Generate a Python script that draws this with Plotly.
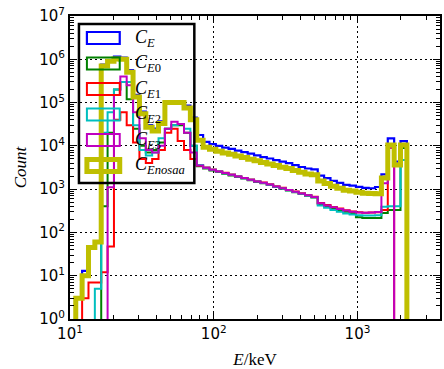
import numpy as np
import plotly.graph_objects as go

# Energy bin edges in keV, evenly spaced in log(E)
edges = np.logspace(1.04, 1.04 + 0.0443 * 52, 53)

# Counts per bin for each channel
c_e = [3, 13, 48, 63, 7.5e5, 9.5e5, 1.15e6, 1.1e6, 5.6e5, 1.5e5,
       6.2e4, 3.0e4, 2.5e4, 3.7e4, 1.08e5, 1.08e5, 1.05e5, 8.5e4, 4.5e4, 1.78e4,
       1.23e4, 1.1e4, 1.0e4, 9.1e3, 8.5e3, 7.8e3, 7.2e3, 6.6e3, 6.0e3, 5.5e3,
       5.1e3, 4.7e3, 4.3e3, 4.0e3, 3.6e3, 3.25e3, 3.0e3, 2.85e3, 2.05e3, 1.8e3,
       1.55e3, 1.4e3, 1.25e3, 1.2e3, 1.13e3, 1.07e3, 1.05e3, 1.12e3, 2.2e3, 1.49e4,
       4.3e3, 1.29e4]
c_e0 = [0, 0, 0, 0, 400, 2e4, 2e5, 3e5, 1.2e5, 2.5e4,
        1e4, 7e3, 8e3, 1.2e4, 2.5e4, 3e4, 3e4, 2e4, 1e4, 3.4e3,
        3000, 2700, 2480, 2280, 2080, 1900, 1750, 1600, 1460, 1360,
        1240, 1120, 1020, 930, 850, 770, 700, 640, 450, 400,
        360, 330, 300, 280, 225, 215, 215, 215, 280, 330,
        330, 8900]
c_e1 = [0, 3, 7, 7, 12, 47, 4e4, 6e4, 3e4, 1.2e4,
        5e3, 4e3, 5e3, 8e3, 2e4, 2.5e4, 1.3e4, 8e3, 5e3, 3.5e3,
        3150, 2850, 2600, 2380, 2180, 1980, 1820, 1680, 1520, 1420,
        1300, 1170, 1070, 960, 880, 800, 730, 670, 480, 430,
        385, 355, 325, 305, 292, 285, 288, 292, 330, 9000,
        0, 0]
c_e2 = [0, 0, 0, 5, 2e4, 6e4, 2e5, 3e5, 3e5, 3e4,
        8e3, 6e3, 7e3, 1.5e4, 2.5e4, 3e4, 3.2e4, 2.5e4, 1e4, 3.6e3,
        3100, 2800, 2550, 2340, 2150, 1950, 1790, 1640, 1500, 1390,
        1270, 1140, 1040, 940, 860, 780, 710, 650, 420, 370,
        330, 300, 275, 260, 250, 245, 245, 250, 390, 400,
        400, 4700]
c_e3 = [0, 0, 0, 0, 0, 1.1e3, 1.5e5, 4e5, 2.5e5, 6e4,
        1.5e4, 8e3, 7e3, 1e4, 2.5e4, 3.6e4, 3.2e4, 2e4, 7e3, 3.5e3,
        3100, 2800, 2550, 2350, 2150, 1950, 1800, 1650, 1500, 1400,
        1280, 1150, 1050, 950, 870, 790, 720, 660, 470, 420,
        380, 350, 320, 300, 290, 285, 290, 295, 1360, 9000,
        0, 0]
c_enosaa = [3, 10, 45, 60, 7e5, 9e5, 1.02e6, 1.0e6, 5e5, 1.35e5,
            5.5e4, 2.7e4, 2.2e4, 3.3e4, 1.0e5, 1.0e5, 1.0e5, 7.5e4, 4.0e4, 1.35e4,
            9.3e3, 8.3e3, 7.5e3, 6.8e3, 6.4e3, 5.8e3, 5.4e3, 4.9e3, 4.5e3, 4.1e3,
            3.8e3, 3.5e3, 3.2e3, 3.0e3, 2.7e3, 2.45e3, 2.25e3, 2.15e3, 1.55e3, 1.35e3,
            1.17e3, 1.05e3, 940, 900, 850, 800, 790, 780, 1.8e3, 1.05e4,
            3.6e3, 1.05e4]

labels = ["<i>C</i><sub><i>E</i></sub>",
          "<i>C</i><sub><i>E</i>0</sub>",
          "<i>C</i><sub><i>E</i>1</sub>",
          "<i>C</i><sub><i>E</i>2</sub>",
          "<i>C</i><sub><i>E</i>3</sub>",
          "<i>C</i><sub><i>Enosaa</i></sub>"]
colors = ["#0000ff", "#008000", "#ff0000", "#00bfbf", "#bf00bf", "#bfbf00"]
widths = [2.2, 2, 2, 2, 2, 5]
counts = [c_e, c_e0, c_e1, c_e2, c_e3, c_enosaa]

y_ticks = [10.0 ** p for p in range(0, 8)]
y_ticktext = [f"10<sup>{p}</sup>" for p in range(0, 8)]
x_ticks = [10.0, 100.0, 1000.0]
x_ticktext = ["10<sup>1</sup>", "10<sup>2</sup>", "10<sup>3</sup>"]

FLOOR = 1e-3  # empty bins drop below the visible range


def step_xy(c):
    xs = [edges[0]] + list(edges[:-1]) + [edges[-1]]
    ys = [FLOOR] + [v if v > 0 else FLOOR for v in c] + [FLOOR]
    return xs, ys


fig = go.Figure()
for lab, c, col, w in zip(labels, counts, colors, widths):
    xs, ys = step_xy(c)
    fig.add_trace(go.Scatter(x=xs, y=ys, mode="lines", line_shape="hv",
                             line=dict(color=col, width=w), name=lab))

# plot-area geometry in pixels, used to place the hand-drawn legend
L, R, T, B = 70, 442, 16, 319
W, H = 444, 369


def px(x):
    return (x - L) / (R - L)


def py(y):
    return (B - y) / (B - T)


shapes = [dict(type="rect", xref="paper", yref="paper",
               x0=px(79), x1=px(195), y0=py(183), y1=py(24),
               line=dict(color="black", width=2.5), fillcolor="rgba(0,0,0,0)")]
annotations = []
row0, dy = 38, 25.5
for i, (lab, col, w) in enumerate(zip(labels, colors, widths)):
    yc = row0 + i * dy
    shapes.append(dict(type="rect", xref="paper", yref="paper",
                       x0=px(87), x1=px(120), y0=py(yc + 6), y1=py(yc - 6),
                       line=dict(color=col, width=w), fillcolor="rgba(0,0,0,0)"))
    annotations.append(dict(xref="paper", yref="paper", x=px(133), y=py(yc),
                            xanchor="left", yanchor="middle", showarrow=False,
                            text=lab, font=dict(family="Liberation Serif", size=18, color="black")))

fig.update_layout(
    width=W, height=H,
    margin=dict(l=L, r=W - R, t=T, b=H - B),
    plot_bgcolor="white", paper_bgcolor="white",
    showlegend=False,
    shapes=shapes, annotations=annotations,
)

axis_common = dict(
    type="log", ticks="inside", ticklen=7, tickwidth=1, tickcolor="black",
    mirror="allticks", showline=True, linewidth=2, linecolor="black",
    showgrid=True, gridcolor="black", gridwidth=1, griddash="2px,3px",
    tickfont=dict(family="DejaVu Sans", size=15, color="black"),
    zeroline=False,
)

x_minor = [m * 10.0 ** p for p in range(1, 4) for m in range(2, 10)]
y_minor = [m * 10.0 ** p for p in range(0, 7) for m in range(2, 10)]

fig.update_xaxes(range=[1, 3.574], tickmode="array", tickvals=x_ticks, ticktext=x_ticktext,
                 minor=dict(tickmode="array", tickvals=x_minor, ticks="inside", ticklen=4,
                            tickcolor="black", showgrid=False),
                 title=dict(text="<i>E</i>/keV", font=dict(family="Liberation Serif", size=17, color="black"),
                            standoff=12),
                 **axis_common)
fig.update_yaxes(range=[0, 7], tickmode="array", tickvals=y_ticks, ticktext=y_ticktext,
                 minor=dict(tickmode="array", tickvals=y_minor, ticks="inside", ticklen=4,
                            tickcolor="black", showgrid=False),
                 title=dict(text="<i>Count</i>", font=dict(family="Liberation Serif", size=17, color="black"),
                            standoff=8),
                 **axis_common)

fig.write_html("out.html")
